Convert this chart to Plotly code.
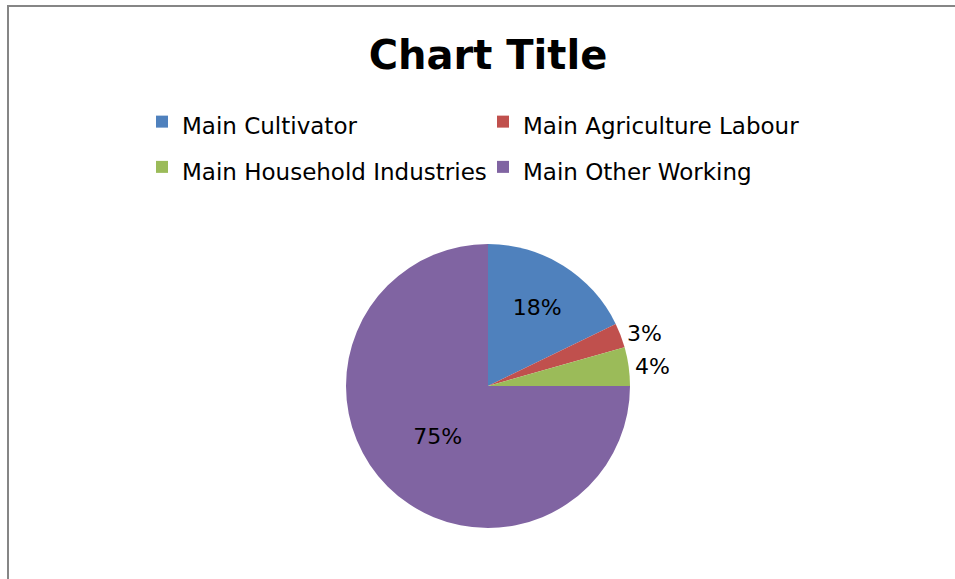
import plotly.graph_objects as go

labels = ["Main Cultivator", "Main Agriculture Labour", "Main Household Industries", "Main Other Working"]
values = [17.8, 2.8, 4.4, 75.0]
colors = ["#4F81BD", "#C0504D", "#9BBB59", "#8064A2"]
text_positions = ["inside", "outside", "outside", "inside"]

W, H = 955, 579
cx, cy, r = 488, 386, 142

fig = go.Figure()
fig.add_trace(go.Pie(
    labels=[f"<span style='font-size:23px'>{l}</span>" for l in labels],
    values=values,
    marker=dict(colors=colors, line=dict(width=0)),
    sort=False,
    direction="clockwise",
    rotation=0,
    textinfo="percent",
    texttemplate="%{percent:.0%}",
    textposition=text_positions,
    insidetextorientation="horizontal",
    textfont=dict(family="DejaVu Sans", size=22, color="#000000"),
    insidetextfont=dict(family="DejaVu Sans", size=22, color="#000000"),
    outsidetextfont=dict(family="DejaVu Sans", size=22, color="#000000"),
    domain=dict(x=[(cx - r) / W, (cx + r) / W], y=[(H - cy - r) / H, (H - cy + r) / H]),
    hoverinfo="skip",
))

fig.update_layout(
    width=W, height=H,
    margin=dict(l=0, r=0, t=0, b=0),
    paper_bgcolor="#FFFFFF",
    plot_bgcolor="#FFFFFF",
    title=dict(text="<b>Chart Title</b>", x=488 / W, xanchor="center", y=1 - 55 / H, yanchor="middle",
               yref="container", font=dict(family="DejaVu Sans", size=40, color="#000000")),
    legend=dict(orientation="h", x=142 / W, xanchor="left", y=1 - 94 / H, yanchor="top",
                entrywidth=296, entrywidthmode="pixels", itemwidth=30,
                font=dict(family="DejaVu Sans", size=32.5, color="#000000"),
                bgcolor="rgba(0,0,0,0)", traceorder="normal"),
    showlegend=True,
    shapes=[dict(type="rect", xref="paper", yref="paper", x0=8 / W, x1=1.05, y0=-0.05, y1=1 - 6 / H,
                 line=dict(color="#868686", width=2), fillcolor="rgba(0,0,0,0)", layer="below")],
)

fig.write_html("out.html")
